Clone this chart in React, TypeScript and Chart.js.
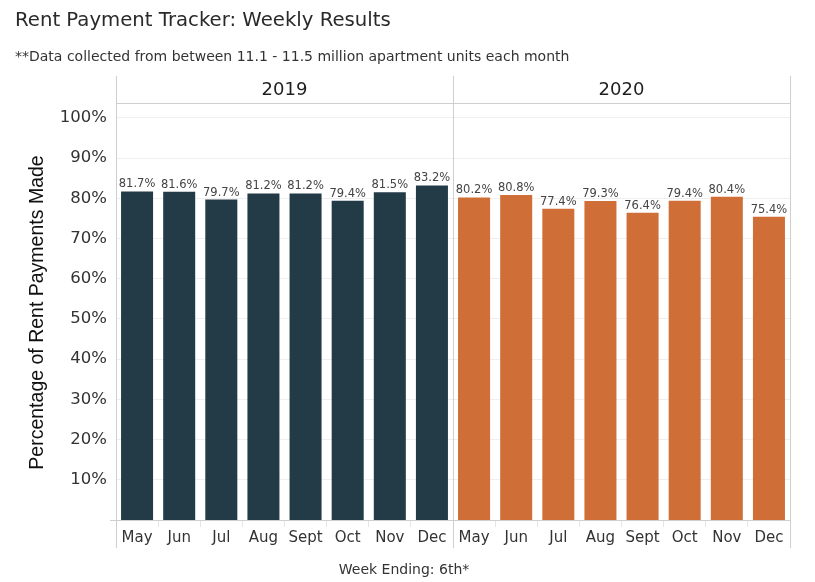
import React, { useEffect, useRef } from "react";
import { Chart, registerables } from "chart.js";

Chart.register(...registerables);

const titleText = "Rent Payment Tracker: Weekly Results";
const subtitleText = "**Data collected from between 11.1 - 11.5 million apartment units each month";
const yAxisTitle = "Percentage of Rent Payments Made";
const xAxisTitle = "Week Ending: 6th*";
const months = ["May", "Jun", "Jul", "Aug", "Sept", "Oct", "Nov", "Dec"];
const years = ["2019", "2020"];
const values2019 = [81.7, 81.6, 79.7, 81.2, 81.2, 79.4, 81.5, 83.2];
const values2020 = [80.2, 80.8, 77.4, 79.3, 76.4, 79.4, 80.4, 75.4];
const yTickValues = [10, 20, 30, 40, 50, 60, 70, 80, 90, 100];
const yMax = 103.7;

const colors = ["#233a47", "#cf6e37"];
const FONT = "'DejaVu Sans', 'Open Sans', sans-serif";
const YTITLE_FONT = "'Liberation Sans', Arial, sans-serif";

const labels = [...months, ...months];
const values = [...values2019, ...values2020];
const barColors = [...values2019.map(() => colors[0]), ...values2020.map(() => colors[1])];

const overlay = {
  id: "overlay",
  afterDraw(chart: any) {
    const { ctx, chartArea: ca, scales } = chart;
    const xs = scales.x;
    ctx.save();
    const line = (x1: number, y1: number, x2: number, y2: number) => {
      ctx.beginPath();
      ctx.moveTo(x1, y1);
      ctx.lineTo(x2, y2);
      ctx.stroke();
    };
    ctx.strokeStyle = "#cfcfcf";
    ctx.lineWidth = 1;
    const top = Math.round(ca.top) + 0.5;
    const bottom = Math.round(ca.bottom) + 0.5;
    line(ca.left, top, ca.right, top);
    line(ca.left - 6, bottom, ca.right, bottom);
    const n = months.length;
    const mid = (xs.getPixelForValue(n - 1) + xs.getPixelForValue(n)) / 2;
    const panelEdges = [ca.left, mid, ca.right];
    panelEdges.forEach((px) => {
      const p = Math.round(px) + 0.5;
      line(p, 76, p, 548);
    });

    // headers
    ctx.fillStyle = "#1f1f1f";
    ctx.font = `18px ${FONT}`;
    ctx.textAlign = "center";
    ctx.textBaseline = "middle";
    years.forEach((yr, i) => {
      ctx.fillText(yr, (panelEdges[i] + panelEdges[i + 1]) / 2, 90);
    });

    // data labels
    const meta = chart.getDatasetMeta(0);
    ctx.fillStyle = "#444";
    ctx.font = `11.5px ${FONT}`;
    ctx.textBaseline = "alphabetic";
    meta.data.forEach((bar: any, i: number) => {
      ctx.fillText(values[i].toFixed(1) + "%", bar.x, bar.y - 4);
    });

    // y title
    ctx.save();
    ctx.translate(38, (ca.top + ca.bottom) / 2 + 1);
    ctx.rotate(-Math.PI / 2);
    ctx.fillStyle = "#111";
    ctx.font = `19.5px ${YTITLE_FONT}`;
    ctx.textBaseline = "middle";
    ctx.textAlign = "center";
    ctx.fillText(yAxisTitle, 0, 0);
    ctx.restore();

    // x title
    ctx.fillStyle = "#333";
    ctx.font = `14px ${FONT}`;
    ctx.textAlign = "center";
    ctx.textBaseline = "middle";
    ctx.fillText(xAxisTitle, 404, 570);

    // title & subtitle
    ctx.textAlign = "left";
    ctx.fillStyle = "#2a2a2a";
    ctx.font = `19.7px ${FONT}`;
    ctx.fillText(titleText, 15, 21);
    ctx.fillStyle = "#333";
    ctx.font = `14px ${FONT}`;
    ctx.fillText(subtitleText, 15, 57);
    ctx.restore();
  },
};

export default function App() {
  const ref = useRef<HTMLCanvasElement | null>(null);
  useEffect(() => {
    document.body.style.margin = "0";
    if (!ref.current) return;
    const chart = new Chart(ref.current, {
      type: "bar",
      data: {
        labels,
        datasets: [
          {
            data: values,
            backgroundColor: barColors,
            barPercentage: 0.76,
            categoryPercentage: 1,
          },
        ],
      },
      options: {
        responsive: false,
        animation: false,
        layout: { padding: { left: 0, right: 25, top: 103, bottom: 0 } },
        plugins: { legend: { display: false }, tooltip: { enabled: false } },
        scales: {
          x: {
            afterFit: (s: any) => {
              s.height = 62;
            },
            border: { display: false },
            grid: {
              drawOnChartArea: false,
              tickLength: 7,
              color: "#e6e6e6",
              offset: true,
            },
            ticks: {
              color: "#333",
              font: { family: FONT, size: 15 },
              padding: 2,
              maxRotation: 0,
              autoSkip: false,
            },
          },
          y: {
            min: 0,
            max: yMax,
            afterFit: (s: any) => {
              s.width = 116;
            },
            afterBuildTicks: (s: any) => {
              s.ticks = yTickValues.map((v) => ({ value: v }));
            },
            border: { display: false },
            grid: { color: "#efefef", drawTicks: false },
            ticks: {
              color: "#333",
              font: { family: FONT, size: 16.5 },
              padding: 9,
              callback: (v: any) => v + "%",
            },
          },
        },
      },
      plugins: [overlay],
    });
    return () => chart.destroy();
  }, []);
  return <canvas ref={ref} width={815} height={582} style={{ display: "block" }} />;
}
